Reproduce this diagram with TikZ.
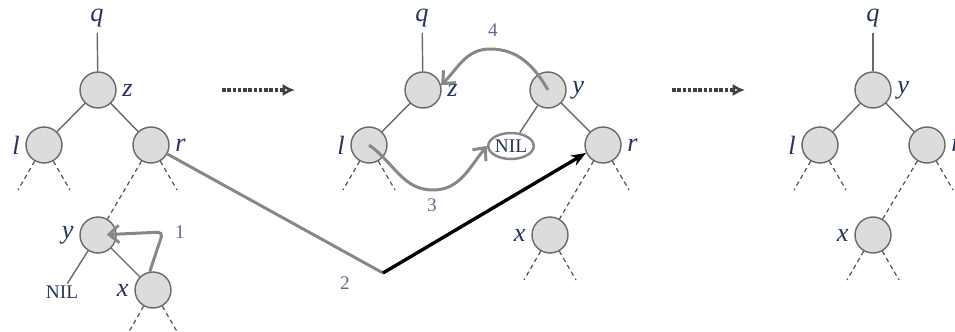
\documentclass[tikz,border=0pt]{standalone}
\usepackage{fontspec}
\setmainfont{Liberation Serif}
\usepackage{tikz}
\usetikzlibrary{
  arrows.meta,
  positioning,
  shapes.geometric
}
\definecolor{bstfill}{RGB}{220,220,220}
\definecolor{bstline}{RGB}{105,105,105}
\definecolor{bstdash}{RGB}{85,85,85}
\definecolor{bstmove}{RGB}{135,135,135}
\definecolor{bstink}{RGB}{40,50,95}
\definecolor{bstnum}{RGB}{95,110,140}
\tikzset{
  bstNode/.style={
    circle,
    draw=bstline,
    fill=bstfill,
    line width=0.8pt,
    minimum size=0.72cm,
    inner sep=0pt
  },
  bstNil/.style={
    ellipse,
    draw=bstmove,
    line width=1.4pt,
    minimum width=0.78cm,
    minimum height=0.52cm,
    inner sep=0pt,
    text=bstink,
    font=\fontsize{11}{13}\selectfont
  },
  bstText/.style={
    text=bstink,
    inner sep=1pt,
    font=\fontsize{11}{13}\selectfont
  },
  bstName/.style={
    text=bstink,
    inner sep=1pt,
    font=\fontsize{15}{17}\selectfont\itshape
  },
  bstNum/.style={
    text=bstnum,
    font=\fontsize{11}{13}\selectfont
  },
  bstEdge/.style={
    draw=bstline,
    line width=0.8pt
  },
  bstStub/.style={
    draw=bstdash,
    line width=0.7pt,
    dash pattern=on 2.5pt off 2pt
  },
  bstMove/.style={
    -{Straight Barb[length=2mm, width=3.5mm]},
    draw=bstmove,
    line width=1.7pt
  },
  bstLink/.style={
    -{Stealth[length=3mm]},
    draw=black,
    line width=1.9pt
  },
  bstStep/.style={
    -{Latex[open, length=2.5mm, width=2.5mm]},
    draw=black!75,
    line width=2pt,
    densely dotted
  }
}
% dashed stub hanging below a node: node, suffix, x offset
\newcommand{\treestub}[3]{%
  \coordinate (#1-#2) at ([shift={(#3,45)}]#1.center);
  \draw[bstStub] (#1) -- (#1-#2);
}

\begin{document}
\begin{tikzpicture}[x=0.02cm, y=-0.02cm, label distance=2pt]
  \useasboundingbox (0,0) rectangle (955,331);

  % tree before deletion of z
  \node[bstName] (q1) at (97,18) {q};
  \node[bstNode, label={[bstName]east:z}] (z1) at (98,90) {};
  \node[bstNode, label={[bstName]west:l}] (l1) at (44,145) {};
  \node[bstNode, label={[bstName]east:r}] (r1) at (151,145) {};
  \node[bstNode, label={[bstName]west:y}] (y1) at (98,235) {};
  \node[bstNode, label={[bstName]west:x}] (x1) at (153,290) {};
  \node[bstText] (nil1) at (62,292) {NIL};

  \draw[bstEdge, shorten <=2pt] (q1) -- (z1);
  \draw[bstEdge] (z1) -- (l1);
  \draw[bstEdge] (z1) -- (r1);
  \draw[bstStub] (r1) -- (y1);
  \draw[bstEdge] (y1) -- (nil1);
  \draw[bstEdge] (y1) -- (x1);
  \treestub{l1}{a}{-26}
  \treestub{l1}{b}{26}
  \treestub{r1}{b}{26}
  \treestub{x1}{a}{-26}
  \treestub{x1}{b}{26}

  % step 1: x takes the place of y
  \coordinate (k1) at (163,232);
  \draw[bstMove, rounded corners=3pt, shorten >=5pt]
    (x1.100) -- (k1) -- (y1.center);
  \node[bstNum] (n1) at (180,232) {1};

  \coordinate (s1a) at (222,90);
  \coordinate (s1b) at (295,90);
  \draw[bstStep] (s1a) -- (s1b);

  % intermediate tree
  \node[bstName] (q2) at (422,18) {q};
  \node[bstNode, label={[bstName]east:z}] (z2) at (423,90) {};
  \node[bstNode, label={[bstName]east:y}] (y2) at (548,90) {};
  \node[bstNode, label={[bstName]west:l}] (l2) at (369,145) {};
  \node[bstNil] (nil2) at (511,146) {NIL};
  \node[bstNode, label={[bstName]east:r}] (r2) at (603,145) {};
  \node[bstNode, label={[bstName]west:x}] (x2) at (550,235) {};

  \draw[bstEdge, shorten <=2pt] (q2) -- (z2);
  \draw[bstEdge] (z2) -- (l2);
  \draw[bstEdge] (y2) -- (nil2);
  \draw[bstEdge] (y2) -- (r2);
  \draw[bstStub] (r2) -- (x2);
  \treestub{l2}{a}{-26}
  \treestub{l2}{b}{26}
  \treestub{r2}{b}{26}
  \treestub{x2}{a}{-26}
  \treestub{x2}{b}{26}

  % step 2: r becomes the right child of y
  \coordinate (k2) at (383,273);
  \draw[bstMove, -] (r1) -- (k2);
  \draw[bstLink] (k2) -- (r2.205);
  \node[bstNum] (n2) at (345,283) {2};

  % steps 3 and 4
  \coordinate (k3) at (433,190);
  \draw[bstMove] (l2.center) to[out=-35, in=180] (k3)
    to[out=0, in=230] (nil2.west);
  \node[bstNum] (n3) at (432,205) {3};
  \coordinate (k4) at (490,49);
  \draw[bstMove] (y2.center) to[out=120, in=0] (k4)
    to[out=180, in=45] (z2.15);
  \node[bstNum] (n4) at (493,30) {4};

  \coordinate (s2a) at (672,90);
  \coordinate (s2b) at (745,90);
  \draw[bstStep] (s2a) -- (s2b);

  % tree after deletion
  \node[bstName] (q3) at (873,18) {q};
  \node[bstNode, label={[bstName]east:y}] (y3) at (873,90) {};
  \node[bstNode, label={[bstName]west:l}] (l3) at (820,145) {};
  \node[bstNode, label={[bstName]east:r}] (r3) at (927,145) {};
  \node[bstNode, label={[bstName]west:x}] (x3) at (873,235) {};

  \draw[bstEdge, shorten <=2pt] (q3) -- (y3);
  \draw[bstEdge] (y3) -- (l3);
  \draw[bstEdge] (y3) -- (r3);
  \draw[bstStub] (r3) -- (x3);
  \treestub{l3}{a}{-26}
  \treestub{l3}{b}{26}
  \treestub{r3}{b}{26}
  \treestub{x3}{a}{-26}
  \treestub{x3}{b}{26}
\end{tikzpicture}
\end{document}
